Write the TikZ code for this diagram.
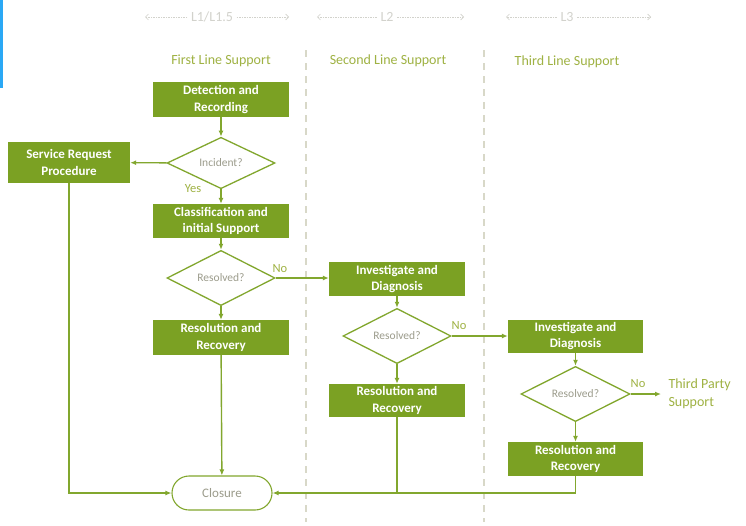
\documentclass[tikz,border=0pt]{standalone}
\usepackage{fontspec}
\setmainfont{Carlito}
\usetikzlibrary{shapes.geometric,shapes.misc,arrows.meta}
\definecolor{gfill}{HTML}{7BA123}
\definecolor{gline}{HTML}{82A72E}
\definecolor{lanetxt}{HTML}{9FB243}
\definecolor{dtxt}{HTML}{9C9C8C}
\definecolor{hdr}{HTML}{D2D2CC}
\definecolor{lanedash}{HTML}{D8D8C8}
\definecolor{bluebar}{HTML}{2AA8F5}
\begin{document}
\begin{tikzpicture}[x=1pt,y=-1pt,
  box/.style={rectangle, fill=gfill, text=white, font=\bfseries\fontsize{13}{16.5}\selectfont, align=center, minimum width=136pt, minimum height=35pt, inner sep=0pt},
  dec/.style={diamond, draw=gline, line width=1.3pt, fill=white, text=dtxt, font=\fontsize{11.5}{12}\selectfont, minimum width=108pt, minimum height=49pt, inner sep=0pt},
  term/.style={rounded rectangle, draw=gline, line width=1.1pt, fill=white, text=dtxt, font=\fontsize{13}{14}\selectfont, minimum width=100pt, minimum height=34pt, inner sep=0pt},
  lane/.style={text=lanetxt, font=\fontsize{14}{16}\selectfont},
  lbl/.style={text=lanetxt, font=\fontsize{12.5}{14}\selectfont},
  flow/.style={draw=gline, line width=1.4pt, -{Latex[length=6pt,width=5pt]}},
  plain/.style={draw=gline, line width=1.4pt},
  hdrtxt/.style={text=hdr, font=\fontsize{14}{16}\selectfont},
  hdrarr/.style={draw=hdr, line width=0.6pt, dash pattern=on 1.5pt off 1pt, -{Straight Barb[length=3pt,width=6pt]}},
  sep/.style={draw=lanedash, line width=1.2pt, dash pattern=on 7pt off 6pt}
]
\useasboundingbox (0,0) rectangle (746,525);
\fill[white] (0,0) rectangle (746,525);
\fill[bluebar] (0,0) rectangle (2.5,88);

% headers
\node[hdrtxt] (h1) at (212,17) {L1/L1.5};
\coordinate (h1l) at (145,17); \coordinate (h1r) at (289,17);
\draw[hdrarr] (h1.west) -- (h1l);
\draw[hdrarr] (h1.east) -- (h1r);
\node[hdrtxt] (h2) at (387,17) {L2};
\coordinate (h2l) at (317,17); \coordinate (h2r) at (464,17);
\draw[hdrarr] (h2.west) -- (h2l);
\draw[hdrarr] (h2.east) -- (h2r);
\node[hdrtxt] (h3) at (567,17) {L3};
\coordinate (h3l) at (506,17); \coordinate (h3r) at (651,17);
\draw[hdrarr] (h3.west) -- (h3l);
\draw[hdrarr] (h3.east) -- (h3r);

% lane separators
\coordinate (s1t) at (306,50); \coordinate (s1b) at (306,522);
\coordinate (s2t) at (484,50); \coordinate (s2b) at (484,522);
\draw[sep] (s1t) -- (s1b);
\draw[sep] (s2t) -- (s2b);

% lane titles
\node[lane] (t1) at (221,61) {First Line Support};
\node[lane] (t2) at (388,61) {Second Line Support};
\node[lane] (t3) at (567,62) {Third Line Support};

% nodes
\node[box] (det) at (221,99.5) {Detection and\\Recording};
\node[dec] (inc) at (221,163) {Incident?};
\node[box, minimum width=122pt, minimum height=41pt] (srp) at (69,162.5) {Service Request\\Procedure};
\node[box, minimum height=34pt] (cls) at (221,221) {Classification and\\initial Support};
\node[dec, minimum height=50pt] (res1) at (221,278) {Resolved?};
\node[box] (rr1) at (221,337.5) {Resolution and\\Recovery};
\node[term] (clo) at (222,493) {Closure};

\node[box, minimum height=34pt] (inv2) at (397,279) {Investigate and\\Diagnosis};
\node[dec, minimum height=48pt] (res2) at (397,336) {Resolved?};
\node[box, minimum height=33pt] (rr2) at (397,400.5) {Resolution and\\Recovery};

\node[box, minimum width=135pt, minimum height=33pt] (inv3) at (575.5,336) {Investigate and\\Diagnosis};
\node[dec, minimum width=109pt, minimum height=48pt] (res3) at (575.5,394) {Resolved?};
\node[box, minimum width=135pt, minimum height=34pt] (rr3) at (575.5,459) {Resolution and\\Recovery};
\node[lane, anchor=west, align=left, font=\fontsize{14}{18}\selectfont] (tps) at (665,394) {Third Party\\Support};
\coordinate (tpsend) at (661,394);

% labels
\node[lbl] (yes) at (193,189) {Yes};
\node[lbl] (no1) at (280,269) {No};
\node[lbl] (no2) at (459,326) {No};
\node[lbl] (no3) at (638,384) {No};

% connectors
\draw[flow] (det) -- (inc);
\draw[flow] (inc) -- (srp);
\draw[flow] (inc) -- (cls);
\draw[flow] (cls) -- (res1);
\draw[flow] (res1) -- (rr1);
\draw[flow] (res1.east) -- (inv2.west |- res1.east);
\draw[flow] (inv2) -- (res2);
\draw[flow] (res2) -- (rr2);
\draw[flow] (res2.east) -- (inv3.west |- res2.east);
\draw[flow] (inv3) -- (res3);
\draw[flow] (res3) -- (rr3);
\draw[flow] (res3.east) -- (tpsend);
\draw[flow] (rr1) -- (clo);
\draw[flow] (srp.south) |- (clo.west);
\draw[flow] (rr3.south) |- (clo.east);
\draw[plain] (rr2.south) -- (rr2.south |- clo.east);
\end{tikzpicture}
\end{document}
